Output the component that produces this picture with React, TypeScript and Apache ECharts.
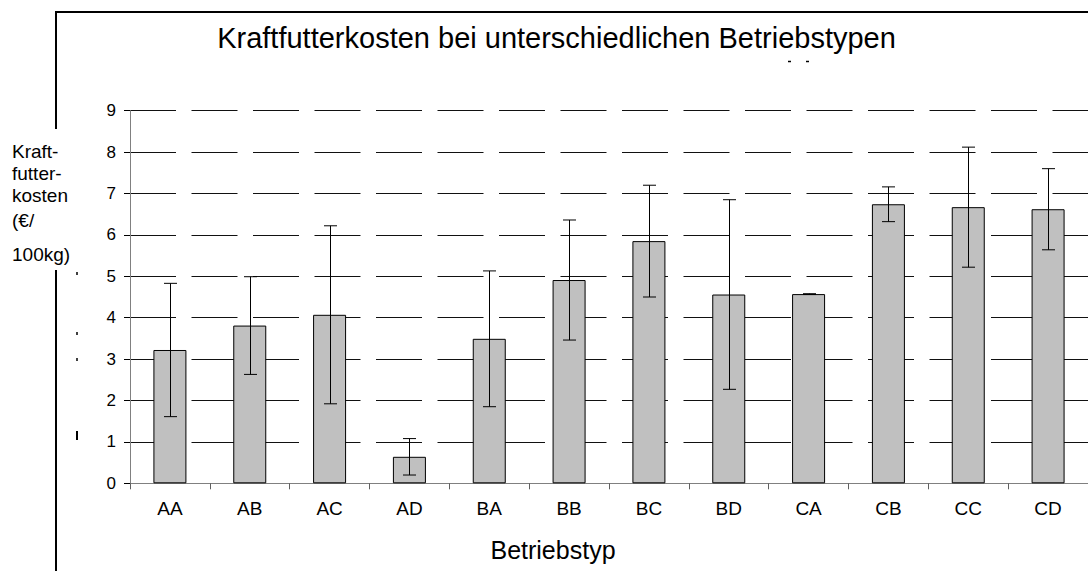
import React, { useEffect, useRef } from "react";
import * as echarts from "echarts";

const categories = ["AA", "AB", "AC", "AD", "BA", "BB", "BC", "BD", "CA", "CB", "CC", "CD"];
const means = [3.22, 3.81, 4.07, 0.64, 3.49, 4.91, 5.85, 4.56, 4.57, 6.74, 6.67, 6.62];
const sds = [1.61, 1.18, 2.15, 0.44, 1.64, 1.45, 1.35, 2.29, 0.01, 0.42, 1.45, 0.98];
const yTicks = [0, 9, 1]; // min, max, interval
const titleText = "Kraftfutterkosten bei unterschiedlichen Betriebstypen";
const xName = "Betriebstyp";
const yNameLines = ["Kraft-", "futter-", "kosten", "(€/", "100kg)"];

const FONT = "'Liberation Sans', Arial, sans-serif";

export default function App() {
  const ref = useRef<HTMLDivElement>(null);
  useEffect(() => {
    if (!ref.current) return;
    const chart = echarts.init(ref.current, null, { renderer: "svg" });
    const errData = means.map((m, i) => [i, m - sds[i], m + sds[i]]);
    const yLabelY = [151, 173, 195, 220, 254];
    const option: any = {
      animation: false,
      backgroundColor: "#fff",
      textStyle: { fontFamily: FONT },
      grid: { left: 130, right: 0, top: 110.7, bottom: 87.7, containLabel: false },
      xAxis: {
        type: "category",
        data: categories,
        boundaryGap: true,
        axisLine: { show: true, lineStyle: { color: "#808080", width: 1 } },
        axisTick: { show: true, length: 6, alignWithLabel: false, lineStyle: { color: "#606060" } },
        axisLabel: { fontSize: 19, color: "#000", margin: 16, fontFamily: FONT },
        splitLine: { show: false },
      },
      yAxis: {
        type: "value",
        min: yTicks[0],
        max: yTicks[1],
        interval: yTicks[2],
        axisLine: { show: true, lineStyle: { color: "#808080", width: 1 } },
        axisTick: { show: true, length: 6, lineStyle: { color: "#000" } },
        axisLabel: { fontSize: 17, color: "#000", margin: 14, fontFamily: FONT },
        splitLine: { show: true, lineStyle: { color: "#111", width: 1, type: [46, 15.5] } },
      },
      series: [
        {
          type: "bar",
          data: means,
          barWidth: 33,
          itemStyle: { color: "#C0C0C0", borderColor: "#000", borderWidth: 1 },
          z: 2,
        },
        {
          type: "custom",
          data: errData,
          z: 3,
          renderItem: (params: any, api: any) => {
            const idx = api.value(0);
            const lo = api.coord([idx, api.value(1)]);
            const hi = api.coord([idx, api.value(2)]);
            const x = Math.round(lo[0]) + 0.5;
            const half = 6.5;
            const st = { stroke: "#000", lineWidth: 1 };
            return {
              type: "group",
              children: [
                { type: "line", shape: { x1: x, y1: lo[1], x2: x, y2: hi[1] }, style: st },
                { type: "line", shape: { x1: x - half, y1: lo[1], x2: x + half, y2: lo[1] }, style: st },
                { type: "line", shape: { x1: x - half, y1: hi[1], x2: x + half, y2: hi[1] }, style: st },
              ],
            };
          },
        },
      ],
      graphic: [
        { type: "line", shape: { x1: 56, y1: 12, x2: 1088, y2: 12 }, style: { stroke: "#000", lineWidth: 2 } },
        { type: "line", shape: { x1: 56, y1: 11, x2: 56, y2: 129 }, style: { stroke: "#000", lineWidth: 2 } },
        { type: "line", shape: { x1: 56, y1: 270, x2: 56, y2: 571 }, style: { stroke: "#000", lineWidth: 2 } },
        {
          type: "text",
          x: 556.5,
          y: 38,
          style: { text: titleText, font: `29px ${FONT}`, fill: "#000", textAlign: "center", textVerticalAlign: "middle" },
        },
        {
          type: "text",
          x: 553,
          y: 550,
          style: { text: xName, font: `25px ${FONT}`, fill: "#000", textAlign: "center", textVerticalAlign: "middle" },
        },
        ...yNameLines.map((t, i) => ({
          type: "text",
          x: 12,
          y: yLabelY[i],
          style: { text: t, font: `19px ${FONT}`, fill: "#000", textAlign: "left", textVerticalAlign: "middle" },
        })),
        { type: "line", shape: { x1: 77, y1: 272, x2: 77, y2: 275 }, style: { stroke: "#000", lineWidth: 1.5 } },
        { type: "line", shape: { x1: 77, y1: 332, x2: 77, y2: 335 }, style: { stroke: "#000", lineWidth: 1.5 } },
        { type: "line", shape: { x1: 77, y1: 358, x2: 77, y2: 361 }, style: { stroke: "#000", lineWidth: 1.5 } },
        { type: "line", shape: { x1: 77, y1: 431, x2: 77, y2: 440 }, style: { stroke: "#000", lineWidth: 2 } },
        { type: "line", shape: { x1: 788, y1: 61.5, x2: 791, y2: 61.5 }, style: { stroke: "#000", lineWidth: 1.5 } },
        { type: "line", shape: { x1: 806, y1: 61.5, x2: 809, y2: 61.5 }, style: { stroke: "#000", lineWidth: 1.5 } },
      ],
    };
    chart.setOption(option);
    return () => chart.dispose();
  }, []);
  return (
    <div
      ref={ref}
      style={{ position: "absolute", left: 0, top: 0, width: 1088, height: 571, background: "#fff" }}
    />
  );
}
